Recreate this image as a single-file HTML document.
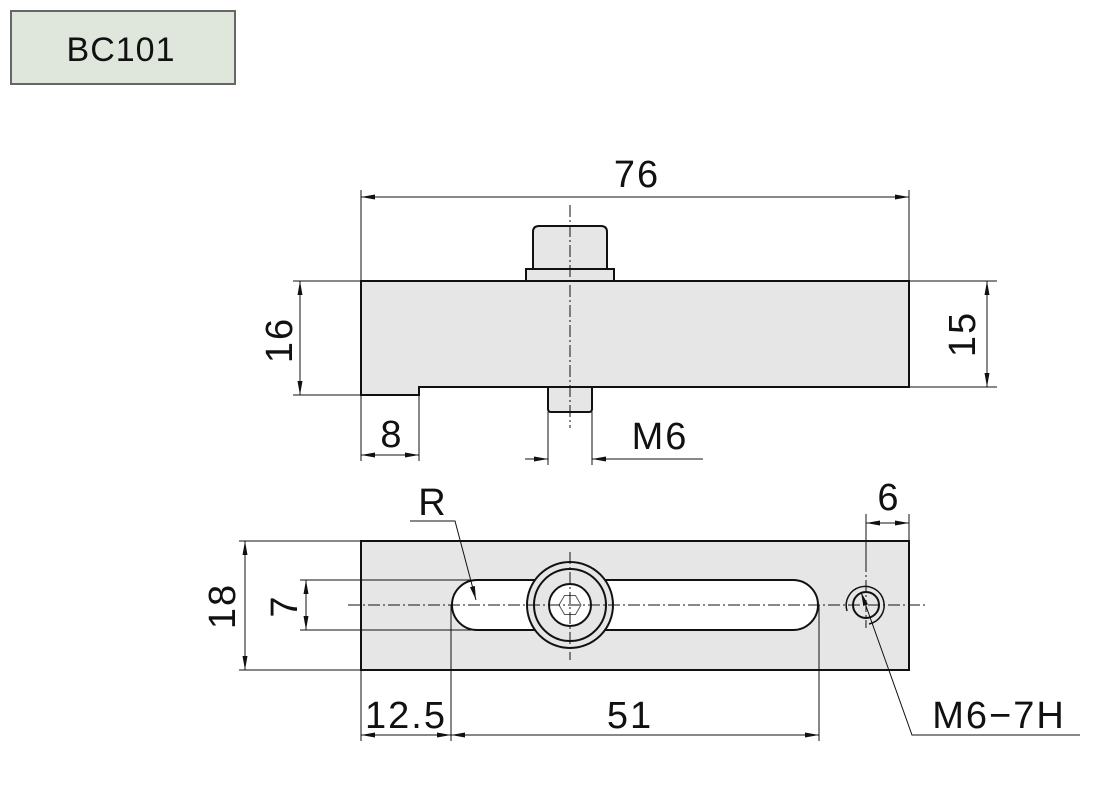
<!DOCTYPE html>
<html><head><meta charset="utf-8"><style>
body{margin:0;background:#fff;width:1108px;height:787px;overflow:hidden}
svg{display:block;font-family:"Liberation Sans",sans-serif}
</style></head><body>
<svg width="1108" height="787" viewBox="0 0 1108 787" xmlns="http://www.w3.org/2000/svg">
<defs>
<marker id="a" viewBox="0 0 14 6" refX="14" refY="3" markerWidth="14" markerHeight="6" markerUnits="userSpaceOnUse" orient="auto-start-reverse"><path d="M0,0.5 L14,3 L0,5.5z" fill="#111"/></marker>
</defs>
<rect x="11" y="11" width="224" height="73" fill="#dfe6dc" stroke="#666" stroke-width="2"/>
<text x="121" y="61" font-size="34" text-anchor="middle" fill="#111" letter-spacing="1">BC101</text>

<g stroke="#111" fill="#e6e6e6" stroke-width="2">
<path d="M361,281 H909 V387 H419 V395 H361 Z"/>
<path d="M533,269 V232 Q533,226 539,226 H601 Q607,226 607,232 V269 Z"/>
<rect x="526" y="269" width="88" height="12"/>
<path d="M548,388 V409 Q548,412 551,412 H589 Q592,412 592,409 V388"/>
<rect x="361" y="541" width="548" height="129"/>
<path d="M477,580 H793 A25,25 0 0 1 793,630 H477 A25,25 0 0 1 477,580 Z" fill="#fff"/>
<circle cx="570" cy="605" r="43"/>
<circle cx="570" cy="605" r="36"/>
<circle cx="570" cy="605" r="21" fill="#fff"/>
<circle cx="866" cy="605" r="13" fill="none"/>
<path d="M847,611 A19,19 0 1 1 869,624" fill="none" stroke-width="1.5"/>
</g>
<polygon points="559,605 564.5,595.5 575.5,595.5 581,605 575.5,614.5 564.5,614.5" fill="none" stroke="#555" stroke-width="1"/>
<g stroke="#111" stroke-width="1" stroke-dasharray="12,3,2,3" fill="none">
<line x1="570" y1="205" x2="570" y2="428"/>
<line x1="570" y1="552" x2="570" y2="660"/>
<line x1="348" y1="605" x2="925" y2="605"/>
<line x1="866" y1="540" x2="866" y2="628"/>
</g>
<g stroke="#111" stroke-width="1" fill="none">
<line x1="361" y1="190" x2="361" y2="281"/><line x1="909" y1="190" x2="909" y2="281"/>
<line x1="361" y1="197" x2="909" y2="197" marker-start="url(#a)" marker-end="url(#a)"/>
<line x1="293" y1="281" x2="361" y2="281"/><line x1="293" y1="395" x2="361" y2="395"/>
<line x1="300" y1="281" x2="300" y2="395" marker-start="url(#a)" marker-end="url(#a)"/>
<line x1="909" y1="281" x2="997" y2="281"/><line x1="909" y1="387" x2="997" y2="387"/>
<line x1="987" y1="281" x2="987" y2="387" marker-start="url(#a)" marker-end="url(#a)"/>
<line x1="361" y1="395" x2="361" y2="461"/><line x1="419" y1="387" x2="419" y2="461"/>
<line x1="361" y1="455" x2="419" y2="455" marker-start="url(#a)" marker-end="url(#a)"/>
<line x1="548" y1="412" x2="548" y2="465"/><line x1="592" y1="412" x2="592" y2="465"/>
<line x1="525" y1="459" x2="548" y2="459" marker-end="url(#a)"/>
<line x1="615" y1="459" x2="592" y2="459" marker-end="url(#a)"/>
<line x1="592" y1="459" x2="703" y2="459"/>
<line x1="239" y1="541" x2="361" y2="541"/><line x1="239" y1="670" x2="361" y2="670"/>
<line x1="245" y1="541" x2="245" y2="670" marker-start="url(#a)" marker-end="url(#a)"/>
<line x1="300" y1="580" x2="477" y2="580"/><line x1="300" y1="630" x2="477" y2="630"/>
<line x1="306" y1="580" x2="306" y2="630" marker-start="url(#a)" marker-end="url(#a)"/>
<line x1="361" y1="670" x2="361" y2="741"/><line x1="451" y1="605" x2="451" y2="741"/>
<line x1="819" y1="605" x2="819" y2="741"/>
<line x1="361" y1="735" x2="451" y2="735" marker-start="url(#a)" marker-end="url(#a)"/>
<line x1="451" y1="735" x2="819" y2="735" marker-start="url(#a)" marker-end="url(#a)"/>
<line x1="866" y1="514" x2="866" y2="560"/><line x1="909" y1="514" x2="909" y2="541"/>
<line x1="866" y1="523" x2="909" y2="523" marker-start="url(#a)" marker-end="url(#a)"/>
<polyline points="410,521 455,521 476,600" marker-end="url(#a)"/>
<polyline points="1080,735 912,735 861,592" marker-end="url(#a)"/>
</g>
<g font-size="38" fill="#111" text-anchor="middle" letter-spacing="2">
<text x="637" y="187">76</text>
<text x="392" y="447">8</text>
<text x="660" y="449">M6</text>
<text x="433" y="515">R</text>
<text x="889" y="510">6</text>
<text x="406" y="728">12.5</text>
<text x="630" y="728">51</text>
<text x="999" y="728">M6−7H</text>
<text transform="translate(292,340) rotate(-90)">16</text>
<text transform="translate(975,334) rotate(-90)">15</text>
<text transform="translate(235,606) rotate(-90)">18</text>
<text transform="translate(297,606) rotate(-90)">7</text>
</g>
</svg>
</body></html>
